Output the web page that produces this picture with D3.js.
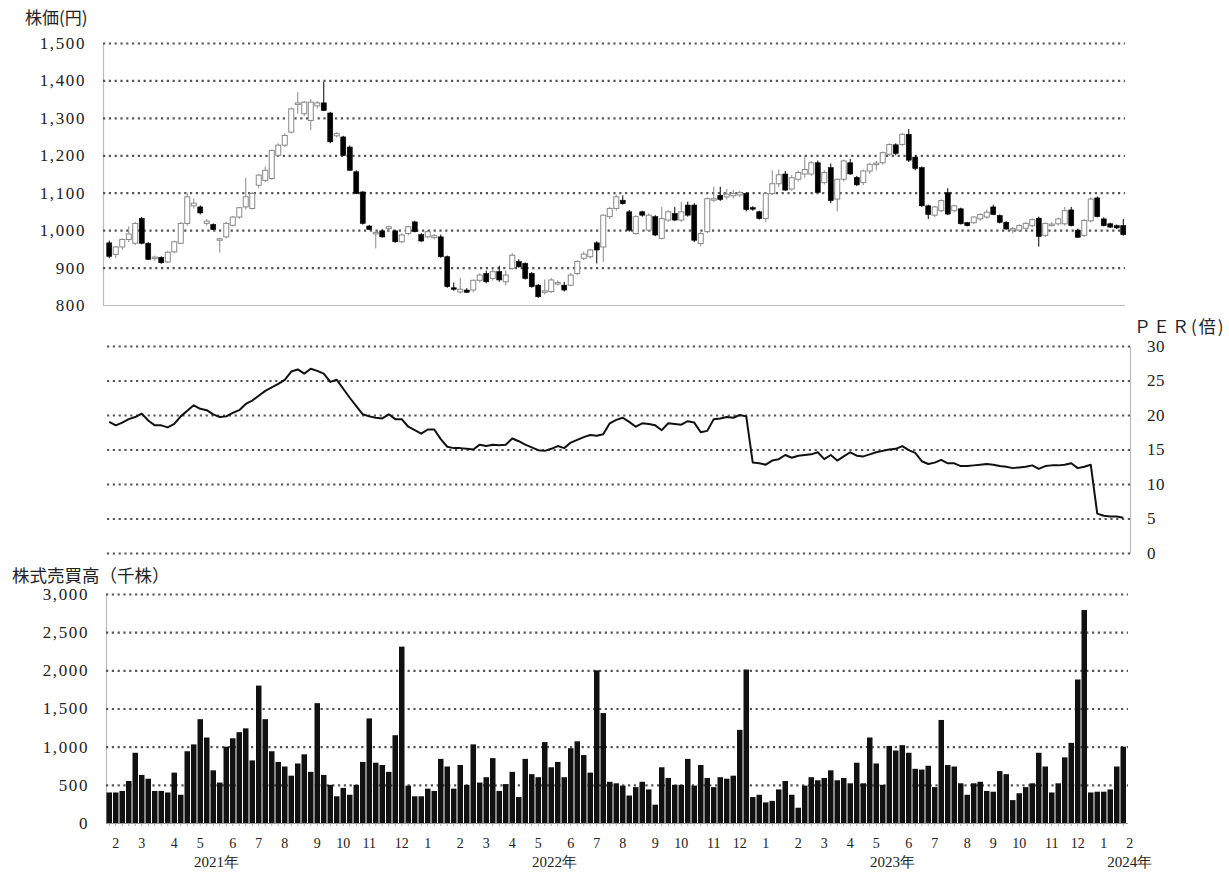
<!DOCTYPE html>
<html><head><meta charset="utf-8">
<script src="https://cdn.jsdelivr.net/npm/d3@7"></script>
<style>
body{margin:0;background:#fff;}
svg text{font-family:"Liberation Serif","DejaVu Serif",serif;fill:#222;}
svg text.jp{font-family:"Noto Sans CJK JP","Liberation Serif",sans-serif;}
</style></head><body>
<svg id="c" width="1229" height="872"></svg>
<script>
// ---- weekly categories (Mondays) ----
const firstWeek = new Date(2021, 0, 25);
const lastWeekStop = new Date(2024, 0, 23);

// ---- candlestick values (yen) ----
const openP = [966,935,955,975,965,1031,965,925,927,915,
942,965,1018,1065,1062,1018,1015,973,982,1013,
1035,1062,1058,1120,1133,1138,1200,1227,1262,1336,
1311,1293,1332,1340,1313,1252,1249,1222,1156,1102,
1011,990,998,1004,998,969,991,1022,988,982,
980,982,929,846,835,840,840,866,884,871,
889,862,898,916,911,884,853,835,836,858,
853,853,884,925,929,966,955,1036,1058,1080,
1049,991,1049,1000,1036,978,1027,1044,1027,1067,
1067,964,996,1080,1093,1089,1092,1094,1098,1060,
1049,1031,1098,1124,1150,1110,1136,1150,1150,1180,
1127,1167,1083,1136,1180,1141,1127,1158,1177,1180,
1203,1228,1229,1256,1195,1167,1065,1040,1052,1100,
1052,1057,1020,1020,1030,1035,1062,1039,1021,1003,
1000,1005,1012,1032,986,1015,1017,1017,1054,1000,
986,1025,1086,1030,1017,1012,1012];
const highP = [972,958,978,1010,1022,1035,968,932,930,945,
972,1022,1100,1085,1066,1030,1018,980,1022,1038,
1062,1140,1102,1150,1170,1215,1232,1258,1328,1369,
1345,1350,1345,1396,1316,1262,1252,1226,1160,1104,
1014,997,1002,1012,1001,992,1012,1025,992,1000,
990,988,932,860,872,845,868,885,892,895,
905,892,938,922,914,888,856,868,872,866,
862,885,920,943,950,970,1042,1062,1095,1093,
1054,1040,1052,1045,1040,1062,1053,1062,1076,1076,
1072,995,1088,1116,1116,1110,1108,1105,1102,1064,
1052,1102,1160,1162,1158,1148,1160,1200,1185,1186,
1160,1178,1138,1188,1190,1145,1162,1180,1185,1210,
1232,1232,1260,1270,1200,1170,1068,1065,1082,1112,
1068,1060,1022,1037,1045,1055,1068,1042,1024,1008,
1016,1022,1032,1036,1020,1022,1034,1062,1062,1004,
1030,1088,1090,1034,1020,1015,1030];
const lowP = [925,925,948,968,960,962,920,918,910,912,
938,962,1012,1058,1042,1012,1000,940,978,1010,
1030,1055,1055,1112,1128,1135,1195,1222,1258,1311,
1305,1267,1325,1318,1232,1248,1198,1158,1096,1015,
1000,951,980,998,966,965,986,994,968,978,
975,926,846,838,830,832,834,860,858,865,
862,852,894,900,868,846,819,828,832,852,
836,850,880,920,925,911,915,1030,1052,1068,
996,988,1036,996,984,975,1022,1024,1022,1036,
968,956,992,1075,1078,1082,1085,1088,1050,1052,
1028,1022,1094,1115,1105,1105,1130,1140,1145,1100,
1122,1072,1050,1130,1148,1118,1120,1150,1160,1175,
1198,1200,1225,1182,1160,1062,1030,1035,1048,1040,
1048,1015,1010,1016,1025,1030,1040,1018,1001,992,
995,1000,1008,956,982,1010,1012,1012,1010,979,
982,1020,1034,1010,1006,1003,985];
const closeP = [930,955,975,990,1018,965,922,928,913,941,
969,1018,1089,1072,1046,1024,1002,977,1018,1035,
1060,1089,1098,1147,1160,1213,1227,1253,1324,1340,
1342,1342,1340,1320,1236,1258,1200,1160,1098,1018,
1002,994,982,1009,969,987,1009,996,971,996,
985,929,849,844,842,834,866,880,862,889,
867,880,933,902,871,849,822,838,867,860,
840,880,916,936,947,947,1040,1058,1089,1071,
1000,1036,1040,1040,987,1031,1049,1027,1049,1040,
973,991,1084,1084,1082,1096,1098,1100,1055,1058,
1031,1098,1124,1148,1107,1140,1154,1162,1180,1101,
1154,1079,1136,1185,1150,1121,1158,1176,1179,1207,
1229,1205,1256,1187,1165,1065,1042,1062,1079,1043,
1065,1017,1012,1035,1042,1048,1042,1021,1003,1004,
1012,1018,1028,983,1018,1016,1030,1052,1012,981,
1026,1083,1036,1012,1008,1006,988];

// ---- PER (times) ----
const perValues = [19.0,18.5,18.9,19.4,19.7,20.2,19.2,18.5,18.5,18.2,
18.7,19.8,20.6,21.4,20.9,20.7,20.1,19.7,19.8,20.3,
20.7,21.6,22.1,22.8,23.5,24.0,24.5,25.1,26.3,26.6,
26.0,26.7,26.4,26.0,24.8,25.1,23.8,22.5,21.3,20.1,
19.8,19.6,19.5,20.1,19.4,19.4,18.3,17.8,17.3,17.9,
17.9,16.5,15.4,15.2,15.2,15.1,15.0,15.7,15.5,15.7,
15.6,15.7,16.6,16.2,15.7,15.3,14.9,14.8,15.1,15.5,
15.2,16.0,16.4,16.8,17.1,17.0,17.2,18.8,19.3,19.6,
19.0,18.3,18.8,18.7,18.5,17.8,18.8,18.7,18.6,19.1,
18.9,17.5,17.7,19.4,19.5,19.7,19.6,20.0,19.8,13.1,
13.0,12.8,13.4,13.6,14.2,13.8,14.1,14.2,14.3,14.6,
13.6,14.2,13.4,14.0,14.6,14.1,14.0,14.3,14.6,14.8,
15.0,15.1,15.5,14.9,14.5,13.3,12.9,13.1,13.5,13.0,
13.0,12.6,12.6,12.7,12.8,12.9,12.8,12.6,12.5,12.3,
12.4,12.5,12.7,12.2,12.6,12.7,12.7,12.8,13.0,12.3,
12.5,12.8,5.7,5.4,5.3,5.3,5.1];

// ---- volume (thousand shares) ----
const volumeK = [400,400,420,550,920,630,580,420,420,400,
660,370,940,1030,1360,1120,690,530,1000,1110,
1190,1240,820,1800,1360,940,800,740,620,780,
900,670,1570,630,500,350,460,370,500,800,
1370,790,760,670,1150,2310,490,350,350,450,
420,840,740,450,760,500,1030,530,600,850,
420,510,670,340,840,640,600,1060,730,800,
600,980,1070,890,660,2000,1440,540,520,490,
360,470,540,440,240,730,590,500,500,840,
490,760,590,470,600,580,620,1220,2010,340,
370,270,290,440,550,370,200,490,600,560,
590,690,560,590,520,790,520,1120,780,500,
1010,950,1020,920,710,700,750,470,1350,760,
740,520,370,520,540,420,410,680,640,300,
390,470,520,920,740,400,520,860,1050,1880,
2790,400,410,410,440,740,1000];

// ---- tick values ----
const priceTicks = [800,900,1000,1100,1200,1300,1400,1500];
const perTicks = [0,5,10,15,20,25,30];
const volTicks = [0,500,1000,1500,2000,2500,3000];
const yearLabels = [2021,2022,2023,2024];

// ---- layout ----
const svg = d3.select("#c");
const weeks = d3.timeMonday.range(firstWeek, lastWeekStop);
const n = weeks.length;
const plotL = 106, stepW = 6.5;
const x = d3.scaleBand().domain(d3.range(n)).range([plotL, plotL + stepW * n]).padding(0);
const xAt = j => x.range()[0] + x.step() * (j + 0.5);

const GRID = "#555";
function styleGrid(g, solidVal, solidColor) {
  g.selectAll(".tick line")
    .attr("stroke", d => d === solidVal ? solidColor : GRID)
    .attr("stroke-width", d => d === solidVal ? 1 : 2.2)
    .attr("stroke-dasharray", d => d === solidVal ? null : "2.2,3.6");
  g.select(".domain").attr("stroke", "#bbb").attr("stroke-width", 1.2);
  g.selectAll(".tick text").attr("font-size", 17).attr("letter-spacing", "1.6px").attr("fill", "#333");
}

// ===== Price panel =====
const yP = d3.scaleLinear().domain([800, 1500]).range([305, 43]);
const pL = 103, pR = 1125;
const gP = svg.append("g").attr("transform", `translate(${pL},0)`)
  .call(d3.axisLeft(yP).tickValues(priceTicks).tickFormat(d3.format(","))
    .tickSize(-(pR - pL)).tickSizeOuter(0).tickPadding(17));
styleGrid(gP, 800, "#bbb");

svg.append("text").attr("class", "jp").attr("x", 25).attr("y", 24)
  .attr("font-size", 17).text("株価(円)");

const bw = 5;
const candles = svg.append("g");
d3.range(n).forEach(j => {
  const o = openP[j], c = closeP[j], h = highP[j], l = lowP[j];
  const up = c >= o;
  const cx = x(j) + x.bandwidth() / 2;
  const col = up ? "#888" : "#000";
  candles.append("line").attr("x1", cx).attr("x2", cx)
    .attr("y1", yP(h)).attr("y2", yP(l)).attr("stroke", col).attr("stroke-width", 1);
  const top = yP(Math.max(o, c)), bot = yP(Math.min(o, c));
  candles.append("rect").attr("x", cx - bw / 2).attr("width", bw)
    .attr("y", top).attr("height", Math.max(1.5, bot - top))
    .attr("fill", up ? "#fff" : "#000")
    .attr("stroke", up ? "#888" : "#000").attr("stroke-width", up ? 1 : 0.6);
});

// ===== PER panel =====
const yE = d3.scaleLinear().domain([0, 30]).range([553, 346]);
const eR = 1130;
const gE = svg.append("g").attr("transform", `translate(${eR},0)`)
  .call(d3.axisRight(yE).tickValues(perTicks)
    .tickSize(-(eR - plotL)).tickSizeOuter(0).tickPadding(17));
styleGrid(gE, -1, GRID);
gE.selectAll(".tick text").attr("letter-spacing", "0.5px");

svg.append("text").attr("class", "jp").attr("x", 1134).attr("y", 333)
  .attr("font-size", 17).attr("letter-spacing", "2px").text("ＰＥＲ(倍)");

svg.append("path").datum(perValues)
  .attr("fill", "none").attr("stroke", "#111").attr("stroke-width", 2)
  .attr("stroke-linejoin", "round")
  .attr("d", d3.line().x((d, j) => x(j) + x.bandwidth() / 2).y(d => yE(d)));

// ===== Volume panel =====
const yV = d3.scaleLinear().domain([0, 3000]).range([823, 594]);
const vR = 1128;
const gV = svg.append("g").attr("transform", `translate(${plotL},0)`)
  .call(d3.axisLeft(yV).tickValues(volTicks).tickFormat(d3.format(","))
    .tickSize(-(vR - plotL)).tickSizeOuter(0).tickPadding(17));
styleGrid(gV, 0, "#999");

svg.append("text").attr("class", "jp").attr("x", 12).attr("y", 582)
  .attr("font-size", 17.5).text("株式売買高（千株）");

svg.append("g").selectAll("rect").data(volumeK).join("rect")
  .attr("x", (d, j) => x(j) + 0.5).attr("width", x.bandwidth() - 1)
  .attr("y", d => yV(d)).attr("height", d => yV(0) - yV(d))
  .attr("fill", "#111");

// small ticks under each week
svg.append("g").selectAll("line").data(d3.range(n)).join("line")
  .attr("x1", j => x(j) + x.bandwidth() / 2).attr("x2", j => x(j) + x.bandwidth() / 2)
  .attr("y1", yV(0)).attr("y2", yV(0) + 3).attr("stroke", "#aaa").attr("stroke-width", 1);

// ===== month / year labels =====
const months = d3.timeMonth.range(new Date(2021, 1, 1), new Date(2024, 1, 2));
const firstIdx = m => {
  const i = weeks.findIndex(w => w.getFullYear() === m.getFullYear() && w.getMonth() === m.getMonth());
  return i < 0 ? n : i;
};
const monthPos = months.map(m => ({ m, px: xAt(firstIdx(m)) }));
svg.append("g").selectAll("text").data(monthPos).join("text")
  .attr("x", d => d.px).attr("y", 848).attr("text-anchor", "middle")
  .attr("font-size", 14).text(d => d.m.getMonth() + 1);

svg.append("g").selectAll("text").data(yearLabels).join("text")
  .attr("x", yr => {
    if (yr === 2024) return xAt(firstIdx(new Date(2024, 1, 1)));
    return (xAt(firstIdx(new Date(yr, 4, 1))) + xAt(firstIdx(new Date(yr, 5, 1)))) / 2;
  })
  .attr("y", 867).attr("text-anchor", "middle").attr("font-size", 15)
  .text(yr => yr + "年");
</script>
</body></html>
